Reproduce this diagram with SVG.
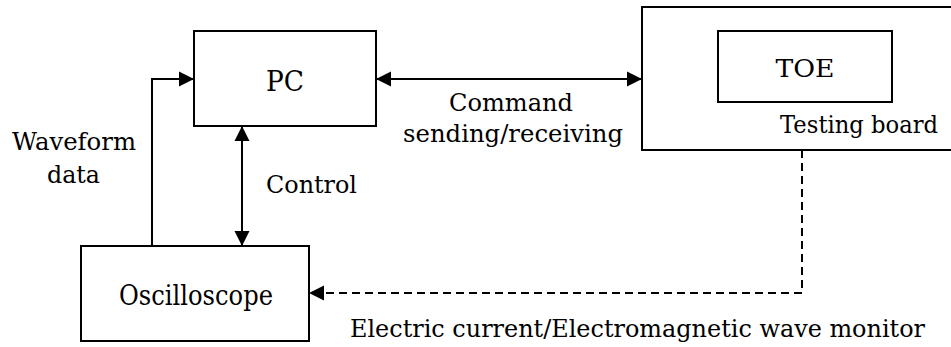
<svg xmlns="http://www.w3.org/2000/svg" width="951" height="347" viewBox="0 0 951 347">
<style>
.box{fill:#fff;stroke:#000;stroke-width:2}
.ln{fill:none;stroke:#000;stroke-width:2}
.dash{stroke-dasharray:8 5}
text{font-family:"DejaVu Serif","Liberation Serif",serif;fill:#000;font-size:24px}
.mid{text-anchor:middle}
</style>
<defs>
<marker id="ah" markerUnits="userSpaceOnUse" markerWidth="16" markerHeight="16" viewBox="0 0 16 16" refX="15" refY="8" orient="auto-start-reverse">
<path d="M0,0.5 L15,8 L0,15.5 z" fill="#000"/>
</marker>
</defs>
<rect width="951" height="347" fill="#fff"/>
<g id="testing-board">
<rect class="box" x="642" y="7" width="320" height="143"/>
<text x="780" y="133" textLength="158" lengthAdjust="spacingAndGlyphs">Testing board</text>
</g>
<g id="toe">
<rect class="box" x="718" y="31" width="174" height="71"/>
<text class="mid" x="805" y="77" style="font-size:25px" textLength="59" lengthAdjust="spacingAndGlyphs">TOE</text>
</g>
<g id="pc">
<rect class="box" x="194" y="31" width="182" height="95"/>
<text class="mid" x="285" y="91" style="font-size:28px" textLength="38" lengthAdjust="spacingAndGlyphs">PC</text>
</g>
<g id="oscilloscope">
<rect class="box" x="81" y="246" width="228" height="95"/>
<text class="mid" x="196" y="305" style="font-size:27px" textLength="154" lengthAdjust="spacingAndGlyphs">Oscilloscope</text>
</g>
<g id="connectors">
<path class="ln" d="M152,246 V79 H194" marker-end="url(#ah)"/>
<line class="ln" x1="376" y1="79" x2="642" y2="79" marker-start="url(#ah)" marker-end="url(#ah)"/>
<line class="ln" x1="242" y1="126" x2="242" y2="246" marker-start="url(#ah)" marker-end="url(#ah)"/>
<path class="ln dash" d="M802,150 V293 H309" marker-end="url(#ah)"/>
</g>
<g id="labels">
<text x="12" y="150" textLength="124" lengthAdjust="spacingAndGlyphs">Waveform</text>
<text x="47" y="183" textLength="53" lengthAdjust="spacingAndGlyphs">data</text>
<text x="266" y="193" textLength="91" lengthAdjust="spacingAndGlyphs">Control</text>
<text x="449" y="111" textLength="124" lengthAdjust="spacingAndGlyphs">Command</text>
<text x="403" y="142" textLength="220" lengthAdjust="spacingAndGlyphs">sending/receiving</text>
<text x="350" y="337" textLength="575" lengthAdjust="spacingAndGlyphs">Electric current/Electromagnetic wave monitor</text>
</g>
</svg>
